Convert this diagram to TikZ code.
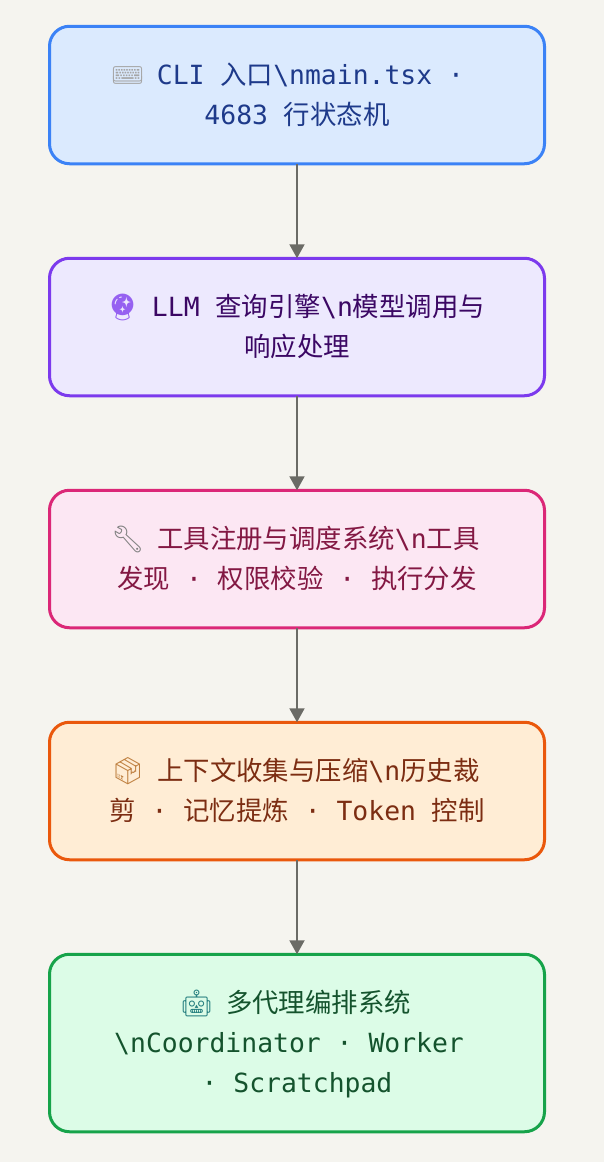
\documentclass[tikz,border=0pt]{standalone}
\usepackage{fontspec}
\usepackage{xcolor}
\usetikzlibrary{arrows.meta,positioning}
\setmainfont{DejaVu Sans Mono}
\newfontfamily\cjk{Noto Sans CJK SC}
\newfontfamily\emofont{Noto Emoji}
\definecolor{pagebg}{HTML}{F5F4EF}
\definecolor{linkgray}{HTML}{6B6B66}
\definecolor{cliblue}{HTML}{3B82F6}
\definecolor{clifill}{HTML}{DBEAFE}
\definecolor{clitext}{HTML}{1E3A8A}
\definecolor{llmpurple}{HTML}{7C3AED}
\definecolor{llmfill}{HTML}{EDE9FE}
\definecolor{llmtext}{HTML}{3B0764}
\definecolor{toolpink}{HTML}{DB2777}
\definecolor{toolfill}{HTML}{FCE7F3}
\definecolor{tooltext}{HTML}{831843}
\definecolor{ctxorange}{HTML}{EA580C}
\definecolor{ctxfill}{HTML}{FFEDD5}
\definecolor{ctxtext}{HTML}{7C2D12}
\definecolor{agentgreen}{HTML}{16A34A}
\definecolor{agentfill}{HTML}{DCFCE7}
\definecolor{agenttext}{HTML}{14532D}
\newcommand{\zh}[1]{{\cjk #1}}
\newcommand{\emo}[2]{\makebox[27pt]{\emofont\textcolor{#1}{#2}}}
\newcommand{\tailspace}{\hbox to 15.9pt{}}
\tikzset{
    layerbox/.style={draw, rectangle, rounded corners=20pt, line width=3pt, outer sep=0pt,
        minimum width=495pt, minimum height=137.5pt, text width=480pt, align=flush center,
        text height=20pt, text depth=41pt, font=\fontsize{26.4}{40}\selectfont},
    link/.style={-{Triangle[length=14pt,width=15pt]}, line width=2pt, draw=linkgray}
}

\begin{document}
\begin{tikzpicture}[x=1pt, y=1pt, node distance=94.5pt]
    \fill [pagebg] (0,0) rectangle (604,-1162);
    \useasboundingbox (0,0) rectangle (604,-1162);

    \node [layerbox, draw=cliblue, fill=clifill, text=clitext] (cli) at (297,-95)
        {\emo{gray!70}{⌨} CLI \zh{入口}\textbackslash nmain.tsx ·\tailspace\\4683 \zh{行状态机}};
    \node [layerbox, draw=llmpurple, fill=llmfill, text=llmtext, below=of cli] (llm)
        {\emo{llmpurple!80}{🔮} LLM \zh{查询引擎}\textbackslash n\zh{模型调用与}\\\zh{响应处理}};
    \node [layerbox, draw=toolpink, fill=toolfill, text=tooltext, below=of llm] (tool)
        {\emo{gray}{🔧} \zh{工具注册与调度系统}\textbackslash n\zh{工具}\\\zh{发现} · \zh{权限校验} · \zh{执行分发}};
    \node [layerbox, draw=ctxorange, fill=ctxfill, text=ctxtext, below=of tool] (ctx)
        {\emo{brown}{📦} \zh{上下文收集与压缩}\textbackslash n\zh{历史裁}\\\zh{剪} · \zh{记忆提炼} · Token \zh{控制}};
    \node [layerbox, draw=agentgreen, fill=agentfill, text=agenttext, minimum height=177.5pt, text depth=81pt, below=of ctx] (agent)
        {\emo{teal!70!gray}{🤖} \zh{多代理编排系统}\\\textbackslash nCoordinator · Worker\tailspace\\· Scratchpad};

    \draw [link] (cli) -- (llm);
    \draw [link] (llm) -- (tool);
    \draw [link] (tool) -- (ctx);
    \draw [link] (ctx) -- (agent);
\end{tikzpicture}
\end{document}
